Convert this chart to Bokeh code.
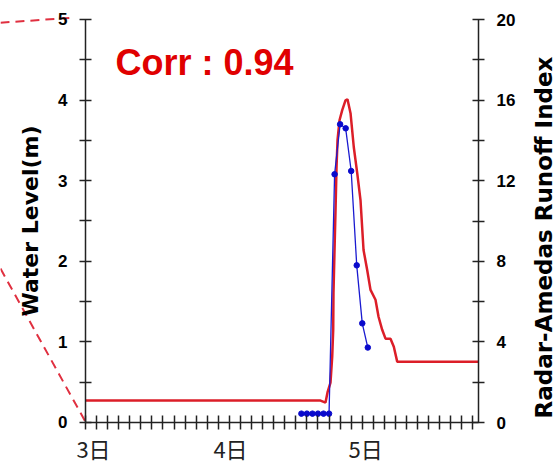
import math
from bokeh.plotting import figure
from bokeh.models import Range1d, LinearAxis, FixedTicker, Label
from bokeh.embed import file_html
from bokeh.resources import INLINE

# ---- data (x in hours from 3日 00:00) ----
day_tick_pos = [1.45, 26.2, 50.6]
day_labels = ["3日", "4日", "5日"]

# Radar-Amedas runoff index (right axis)
runoff_hours = [0, 42.46, 43.36, 43.72, 44.26, 44.57, 44.75, 44.80, 44.99, 45.17,
                45.35, 45.53, 45.89, 46.38, 46.97, 47.33, 47.88, 48.47, 49.09,
                49.68, 50.23, 50.89, 51.49, 52.39, 52.94, 53.60, 54.20, 55.10,
                55.70, 56.31, 71.0]
runoff_index = [1.09, 1.09, 0.99, 1.49, 1.98, 3.27, 4.60, 6.44, 8.56, 10.54,
                12.67, 14.01, 15.0, 15.5, 15.99, 16.04, 15.35, 13.66, 12.38,
                11.04, 8.56, 7.57, 6.58, 6.09, 5.25, 4.60, 4.16, 4.16,
                3.76, 3.02, 3.02]

# Observed water level (left axis), hourly
level_hours = [39, 40, 41, 42, 43, 44, 45, 46, 47, 48, 49, 50, 51]
water_level = [0.11, 0.11, 0.11, 0.11, 0.11, 0.11, 3.08, 3.70, 3.65, 3.12, 1.95, 1.23, 0.93]

# zoom-guide dashed lines (left of the chart)
guide_upper_x = [-15.36, -2.71]
guide_upper_y = [4.96, 5.02]
guide_lower_x = [-15.36, 0.36]
guide_lower_y = [1.91, -0.037]

corr_text = "Corr : 0.94"
left_title = "Water Level(m)"
right_title = "Radar-Amedas Runoff Index"

p = figure(width=556, height=465, output_backend="svg", toolbar_location=None,
           x_range=Range1d(-15.356, 85.09), y_range=Range1d(-0.5335, 5.2357),
           min_border=0)
p.outline_line_color = None
p.xgrid.visible = False
p.ygrid.visible = False
p.background_fill_color = "white"
p.border_fill_color = "white"

p.extra_y_ranges = {"right": Range1d(-2.134, 20.943)}

# x axis
xa = p.xaxis[0]
xa.fixed_location = 0
xa.bounds = (0, 71)
xa.ticker = FixedTicker(ticks=day_tick_pos, minor_ticks=list(range(0, 72, 2)))
xa.major_label_overrides = {v: s for v, s in zip(day_tick_pos, day_labels)}
xa.major_tick_line_color = None
xa.major_tick_in = 0
xa.major_tick_out = 7
xa.minor_tick_in = 7
xa.minor_tick_out = 7
xa.minor_tick_line_color = "#222222"
xa.minor_tick_line_width = 1.5
xa.axis_line_color = "#222222"
xa.axis_line_width = 1.5
xa.major_label_text_font = "Noto Sans CJK JP"
xa.major_label_text_font_size = "22px"
xa.major_label_text_color = "#222222"
xa.major_label_standoff = 3


def style_y(ax):
    ax.major_tick_in = 6
    ax.major_tick_out = 6
    ax.minor_tick_in = 6
    ax.minor_tick_out = 6
    ax.major_tick_line_color = "#222222"
    ax.minor_tick_line_color = "#222222"
    ax.major_tick_line_width = 1.5
    ax.minor_tick_line_width = 1.5
    ax.axis_line_color = "#222222"
    ax.axis_line_width = 1.5
    ax.major_label_text_font = "Liberation Sans"
    ax.major_label_text_font_style = "bold"
    ax.major_label_text_font_size = "17px"
    ax.major_label_text_color = "black"
    ax.major_label_standoff = 12
    ax.axis_label_text_font = "DejaVu Sans"
    ax.axis_label_text_font_style = "bold"
    ax.axis_label_text_font_size = "22px"
    ax.axis_label_text_color = "black"
    ax.axis_label_standoff = 12


# left axis
ya = p.yaxis[0]
ya.fixed_location = 0
ya.bounds = (0, 5)
ya.ticker = FixedTicker(ticks=[0, 1, 2, 3, 4, 5], minor_ticks=[0.5, 1.5, 2.5, 3.5, 4.5])
ya.axis_label = left_title
style_y(ya)

# right axis
ra = LinearAxis(y_range_name="right",
                ticker=FixedTicker(ticks=[0, 4, 8, 12, 16, 20], minor_ticks=[2, 6, 10, 14, 18]))
style_y(ra)
ra.fixed_location = 71
ra.bounds = (0, 20)
p.add_layout(ra, "right")

# right-axis title, reading bottom to top
p.add_layout(Label(x=82.8, y=2.295, text=right_title, angle=math.pi / 2,
                   text_font="DejaVu Sans", text_font_style="bold", text_font_size="23px",
                   text_color="black", text_align="center", text_baseline="middle"))

# data
p.line(guide_upper_x, guide_upper_y, line_color="#e03040", line_width=2, line_dash="9 6")
p.line(guide_lower_x, guide_lower_y, line_color="#e03040", line_width=2, line_dash="9 6")
p.line(runoff_hours, runoff_index, y_range_name="right", line_color="#dc1e28", line_width=2.5)
p.line(level_hours, water_level, line_color="#1a1ad0", line_width=1.3)
p.scatter(level_hours, water_level, marker="circle", size=5.5, fill_color="#0a0acc", line_color="#0a0acc")

p.add_layout(Label(x=5.42, y=4.47, text=corr_text, text_font="Liberation Sans",
                   text_font_style="bold", text_font_size="36px", text_color="#e00000",
                   text_baseline="middle"))

open("out.html", "w").write(file_html(p, INLINE))
